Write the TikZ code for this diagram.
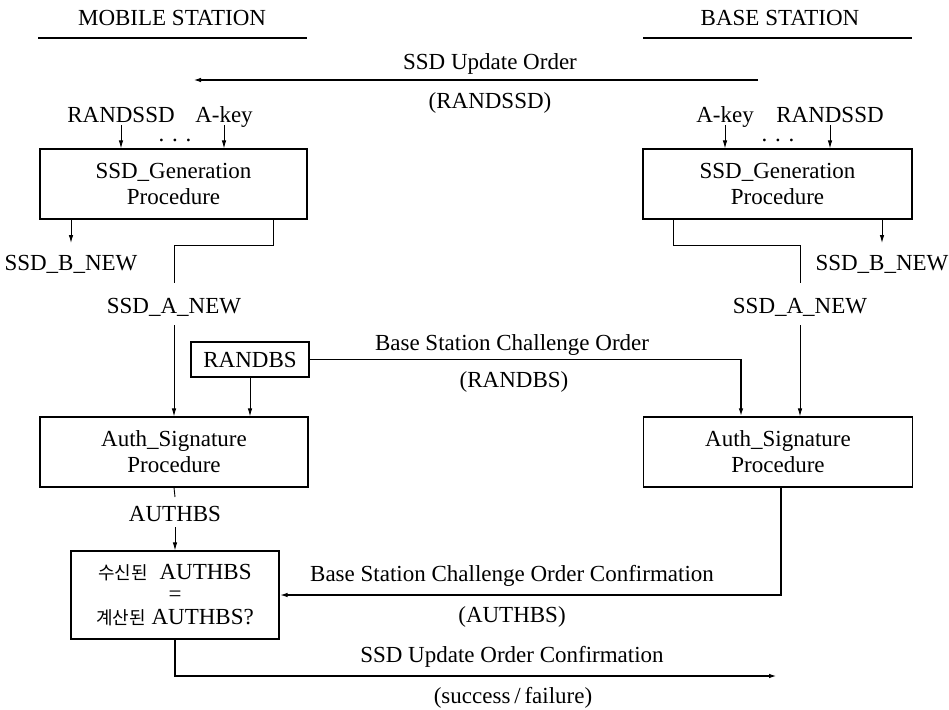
\documentclass[tikz,border=0pt]{standalone}
\usepackage{fontspec}
\setmainfont{Liberation Serif}
\newfontfamily\krfont{Noto Sans CJK KR}
\usetikzlibrary{arrows.meta}
\begin{document}
\begin{tikzpicture}[x=1pt,y=-1pt,
  every node/.style={font=\fontsize{23}{26}\selectfont},
  lbl/.style={anchor=base,inner sep=0pt},
  boxnode/.style={draw,line width=1.1pt,align=center,inner sep=2pt},
  ln/.style={line width=0.9pt},
  thk/.style={line width=1.6pt},
  arr/.style={-{Latex[length=8pt,width=4.5pt]}},
  kr/.style={}
]
\useasboundingbox (0,0) rectangle (949,709);

% titles
\node[lbl] (msT) at (172,26) {MOBILE STATION};
\node[lbl] (bsT) at (780,26) {BASE STATION};
\draw[thk] (38,38) -- (307,38);
\draw[thk] (643,38) -- (912,38);

% SSD Update Order
\coordinate (suoR) at (758,80);
\coordinate (suoL) at (193,80);
\draw[thk,arr] (suoR) -- (suoL);
\node[lbl] (suoT) at (490,70) {SSD Update Order};
\node[lbl] (suoP) at (490,108) {(RANDSSD)};

% SSD generation boxes
\node[boxnode,minimum width=267pt,minimum height=70pt] (gen1) at (173.5,184) {SSD\_Generation\\Procedure};
\node[boxnode,minimum width=269pt,minimum height=70pt] (gen2) at (777.5,184) {SSD\_Generation\\Procedure};

% inputs left
\node[lbl] (lRand) at (121,122) {RANDSSD};
\node[lbl] (lKey) at (224,122) {A-key};
\node[lbl] (lDots) at (175,141) {.\,\,.\,\,.};
\draw[ln,arr] ([yshift=-3pt]lRand.base) -- (lRand.base |- gen1.north);
\draw[ln,arr] ([yshift=-3pt]lKey.base) -- (lKey.base |- gen1.north);
% inputs right
\node[lbl] (rKey) at (725,122) {A-key};
\node[lbl] (rRand) at (830,122) {RANDSSD};
\node[lbl] (rDots) at (778,141) {.\,\,.\,\,.};
\draw[ln,arr] ([yshift=-3pt]rKey.base) -- (rKey.base |- gen2.north);
\draw[ln,arr] ([yshift=-3pt]rRand.base) -- (rRand.base |- gen2.north);

% SSD_B_NEW outputs
\node[lbl] (lBNew) at (71,270) {SSD\_B\_NEW};
\node[lbl] (rBNew) at (882,270) {SSD\_B\_NEW};
\draw[ln,arr] (lBNew.base |- gen1.south) -- ([yshift=27pt]lBNew.base);
\draw[ln,arr] (rBNew.base |- gen2.south) -- ([yshift=27pt]rBNew.base);

% SSD_A_NEW outputs
\node[lbl] (lANew) at (174,313) {SSD\_A\_NEW};
\node[lbl] (rANew) at (800,313) {SSD\_A\_NEW};
\draw[ln] ([xshift=99.5pt]gen1.south) -- ++(0,26) -| ([yshift=30pt]lANew.base);
\draw[ln] ([xshift=-104.5pt]gen2.south) -- ++(0,26) -| ([yshift=30pt]rANew.base);

% RANDBS
\node[boxnode,minimum width=118pt,minimum height=35pt] (randbs) at (250,359.5) {RANDBS};

% Auth boxes
\node[boxnode,minimum width=268pt,minimum height=70pt] (auth1) at (174,452) {Auth\_Signature\\Procedure};
\node[boxnode,minimum width=269pt,minimum height=70pt] (auth2) at (778,452) {Auth\_Signature\\Procedure};

\draw[ln,arr] ([yshift=-12pt]lANew.base) -- (lANew.base |- auth1.north);
\draw[ln,arr] ([yshift=-12pt]rANew.base) -- (rANew.base |- auth2.north);
\draw[ln,arr] (randbs.south) -- (randbs.south |- auth1.north);

% Base station challenge order
\draw[thk,arr] (randbs.east) -| ([xshift=-37pt]auth2.north);
\node[lbl] (bscoT) at (512,350) {Base Station Challenge Order};
\node[lbl] (bscoP) at (514,387) {(RANDBS)};

% AUTHBS
\node[lbl] (lAuthbs) at (175,521) {AUTHBS};
\draw[ln] (auth1.south) -- ([yshift=24pt]lAuthbs.base);

% compare box
\node[boxnode,minimum width=208pt,minimum height=88pt,font=\fontsize{23}{22.5}\selectfont] (cmp) at (175,595)
  {{\krfont\fontsize{18}{22.5}\selectfont 수신된}\ \ AUTHBS\\=\\{\krfont\fontsize{18}{22.5}\selectfont 계산된} AUTHBS?};
\draw[ln,arr] ([yshift=-6pt]lAuthbs.base) -- (lAuthbs.base |- cmp.north);

% confirmation
\draw[thk,arr] ([xshift=3pt]auth2.south) |- (cmp.east);
\node[lbl] (bsccT) at (512,581) {Base Station Challenge Order Confirmation};
\node[lbl] (bsccP) at (512,622) {(AUTHBS)};

% SSD update order confirmation
\coordinate (suocR) at (777,676);
\draw[thk,arr] (cmp.south) |- (suocR);
\node[lbl] (suocT) at (512,662) {SSD Update Order Confirmation};
\node[lbl] (suocP) at (513,703) {(success\,/\,failure)};
\end{tikzpicture}
\end{document}
